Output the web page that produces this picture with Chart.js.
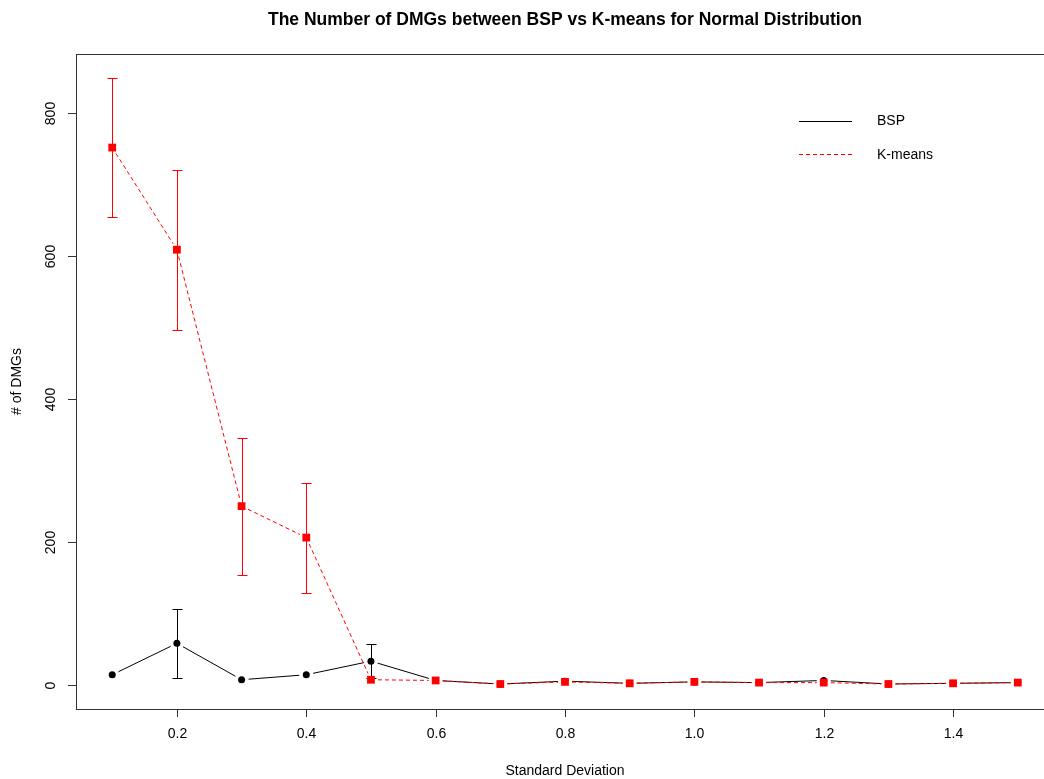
<!DOCTYPE html>
<html>
<head>
<meta charset="utf-8">
<title>DMGs BSP vs K-means</title>
<script src="https://cdn.jsdelivr.net/npm/chart.js@4.4.1/dist/chart.umd.min.js"></script>
<style>
  html, body { margin: 0; padding: 0; background: #fff; overflow: hidden; }
  body { width: 1044px; height: 779px; }
  #wrap { width: 1060px; height: 779px; }
</style>
</head>
<body>
<div id="wrap"><canvas id="dmgChart" width="1060" height="779"></canvas></div>
<script>
// data
const stdDev = [0.1, 0.2, 0.3, 0.4, 0.5, 0.6, 0.7, 0.8, 0.9, 1.0, 1.1, 1.2, 1.3, 1.4, 1.5];
const bspMean = [14, 58, 7, 14, 33, 6, 1, 5, 2, 4, 3, 6, 1, 2, 3];
const bspSd = [0, 48, 0, 0, 24, 0, 0, 0, 0, 0, 0, 0, 0, 0, 0];
const kmMean = [752, 609, 250, 206, 7, 6, 1, 4, 2, 4, 3, 3, 1, 2, 3];
const kmSd = [97, 112, 96, 77, 0, 0, 0, 0, 0, 0, 0, 0, 0, 0, 0];
const xTicks = [0.2, 0.4, 0.6, 0.8, 1.0, 1.2, 1.4];
const yTicks = [0, 200, 400, 600, 800];

const FONT = '"Liberation Sans", Arial, sans-serif';

// R-style 4% axis expansion
function expand(lo, hi) {
  const d = (hi - lo) * 0.04;
  return [lo - d, hi + d];
}
const [xMin, xMax] = expand(Math.min(...stdDev), Math.max(...stdDev));
const yHi = Math.max(...kmMean.map((m, i) => m + kmSd[i]), ...bspMean.map((m, i) => m + bspSd[i]));
const [yMin, yMax] = expand(0, yHi);

const toPts = (ys) => stdDev.map((x, i) => ({ x: x, y: ys[i] }));

// lines with small gaps around each point (like type="b")
const gapLines = {
  id: "gapLines",
  beforeDatasetsDraw(chart) {
    const { ctx, scales } = chart;
    const series = [
      { ys: bspMean, color: "#000", dash: [] },
      { ys: kmMean, color: "#ff0000", dash: [4, 3] },
    ];
    const gap = 7;
    ctx.save();
    ctx.lineWidth = 1;
    series.forEach((s) => {
      ctx.strokeStyle = s.color;
      ctx.setLineDash(s.dash);
      for (let i = 0; i < stdDev.length - 1; i++) {
        const x1 = scales.x.getPixelForValue(stdDev[i]);
        const y1 = scales.y.getPixelForValue(s.ys[i]);
        const x2 = scales.x.getPixelForValue(stdDev[i + 1]);
        const y2 = scales.y.getPixelForValue(s.ys[i + 1]);
        const len = Math.hypot(x2 - x1, y2 - y1);
        if (len <= gap * 2) continue;
        const ux = (x2 - x1) / len, uy = (y2 - y1) / len;
        ctx.beginPath();
        ctx.moveTo(x1 + ux * gap, y1 + uy * gap);
        ctx.lineTo(x2 - ux * gap, y2 - uy * gap);
        ctx.stroke();
      }
    });
    ctx.restore();
  },
};

// mean +/- sd error bars with caps
const errorBars = {
  id: "errorBars",
  beforeDatasetsDraw(chart) {
    const { ctx, scales } = chart;
    const sets = [
      { m: bspMean, sd: bspSd, color: "#000" },
      { m: kmMean, sd: kmSd, color: "#ff0000" },
    ];
    ctx.save();
    ctx.lineWidth = 1;
    ctx.setLineDash([]);
    sets.forEach((s) => {
      ctx.strokeStyle = s.color;
      stdDev.forEach((x, i) => {
        if (!s.sd[i]) return;
        const px = Math.round(scales.x.getPixelForValue(x)) + 0.5;
        const top = Math.round(scales.y.getPixelForValue(s.m[i] + s.sd[i])) + 0.5;
        const bot = Math.round(scales.y.getPixelForValue(s.m[i] - s.sd[i])) + 0.5;
        ctx.beginPath();
        ctx.moveTo(px, top);
        ctx.lineTo(px, bot);
        ctx.moveTo(px - 5, top);
        ctx.lineTo(px + 5, top);
        ctx.moveTo(px - 5, bot);
        ctx.lineTo(px + 5, bot);
        ctx.stroke();
      });
    });
    ctx.restore();
  },
};

// box, ticks, labels, title and legend in base-graphics style
const frame = {
  id: "frame",
  afterDraw(chart) {
    const { ctx, chartArea: a, scales } = chart;
    ctx.save();
    ctx.strokeStyle = "#333";
    ctx.lineWidth = 1;
    ctx.strokeRect(Math.round(a.left) + 0.5, Math.round(a.top) + 0.5,
      Math.round(a.right - a.left), Math.round(a.bottom - a.top));

    ctx.fillStyle = "#000";
    ctx.font = "14px " + FONT;
    ctx.textAlign = "center";
    ctx.textBaseline = "middle";
    xTicks.forEach((t) => {
      const px = Math.round(scales.x.getPixelForValue(t)) + 0.5;
      ctx.beginPath();
      ctx.moveTo(px, a.bottom);
      ctx.lineTo(px, a.bottom + 8);
      ctx.stroke();
      ctx.fillText(t.toFixed(1), px, 734);
    });
    yTicks.forEach((t) => {
      const py = Math.round(scales.y.getPixelForValue(t)) + 0.5;
      ctx.beginPath();
      ctx.moveTo(a.left, py);
      ctx.lineTo(a.left - 8, py);
      ctx.stroke();
      ctx.save();
      ctx.translate(51, py);
      ctx.rotate(-Math.PI / 2);
      ctx.fillText(String(t), 0, 0);
      ctx.restore();
    });

    const cx = (a.left + a.right) / 2;
    ctx.fillText("Standard Deviation", cx, 771);
    ctx.save();
    ctx.translate(17, (a.top + a.bottom) / 2);
    ctx.rotate(-Math.PI / 2);
    ctx.fillText("# of DMGs", 0, 0);
    ctx.restore();

    ctx.font = "bold 17.5px " + FONT;
    ctx.fillText("The Number of DMGs between BSP vs K-means for Normal Distribution", cx, 20);

    // legend
    ctx.font = "14px " + FONT;
    ctx.textAlign = "left";
    ctx.strokeStyle = "#000";
    ctx.beginPath();
    ctx.moveTo(799, 121.5);
    ctx.lineTo(852, 121.5);
    ctx.stroke();
    ctx.fillText("BSP", 877, 121);
    ctx.strokeStyle = "#ff0000";
    ctx.setLineDash([4, 3]);
    ctx.beginPath();
    ctx.moveTo(799, 154.5);
    ctx.lineTo(852, 154.5);
    ctx.stroke();
    ctx.fillText("K-means", 877, 155);
    ctx.restore();
  },
};

new Chart(document.getElementById("dmgChart"), {
  type: "scatter",
  data: {
    datasets: [
      {
        label: "BSP",
        data: toPts(bspMean),
        order: 2,
        showLine: false,
        pointStyle: "circle",
        pointRadius: 3.5,
        pointBorderWidth: 0,
        backgroundColor: "#000",
        borderColor: "#000",
      },
      {
        label: "K-means",
        data: toPts(kmMean),
        order: 1,
        showLine: false,
        pointStyle: "rect",
        pointRadius: 5.5,
        pointBorderWidth: 0,
        backgroundColor: "#ff0000",
        borderColor: "#ff0000",
      },
    ],
  },
  options: {
    responsive: false,
    animation: false,
    devicePixelRatio: 1,
    layout: { padding: { left: 76, top: 54, right: 6, bottom: 70 } },
    plugins: { legend: { display: false }, tooltip: { enabled: false }, title: { display: false } },
    scales: {
      x: { type: "linear", min: xMin, max: xMax, display: false },
      y: { type: "linear", min: yMin, max: yMax, display: false },
    },
  },
  plugins: [gapLines, errorBars, frame],
});
</script>
</body>
</html>
